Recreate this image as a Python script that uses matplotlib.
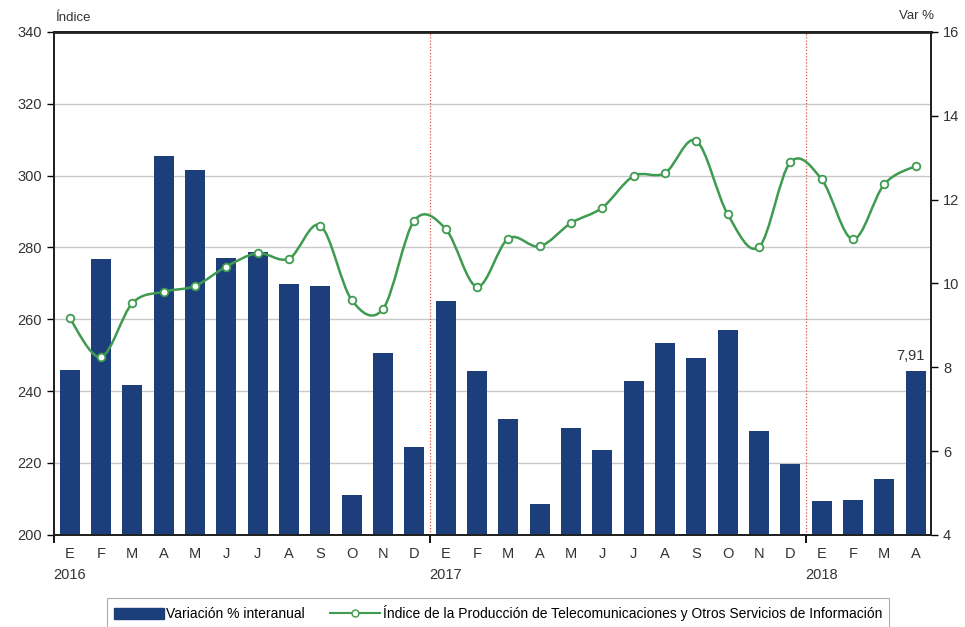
import matplotlib.pyplot as plt
import numpy as np
from matplotlib.path import Path
from matplotlib.patches import PathPatch, Patch
from matplotlib.lines import Line2D

plt.rcParams['font.family'] = ['Liberation Sans', 'DejaVu Sans']

months = ['E', 'F', 'M', 'A', 'M', 'J', 'J', 'A', 'S', 'O', 'N', 'D',
          'E', 'F', 'M', 'A', 'M', 'J', 'J', 'A', 'S', 'O', 'N', 'D',
          'E', 'F', 'M', 'A']
years = ['2016', '2017', '2018']
year_start = [0, 12, 24]

variacion = [7.94, 10.59, 7.57, 13.04, 12.70, 10.60, 10.75, 9.98, 9.94, 4.95, 8.35, 6.10,
             9.58, 7.90, 6.76, 4.74, 6.54, 6.02, 7.68, 8.57, 8.22, 8.89, 6.47, 5.70,
             4.80, 4.84, 5.34, 7.91]
indice = [260.3, 249.5, 264.5, 267.7, 269.3, 274.7, 278.4, 276.9, 286.1, 265.4, 262.9, 287.5,
          285.2, 269.1, 282.5, 280.3, 286.8, 291.1, 299.9, 300.7, 309.7, 289.3, 280.1, 303.7,
          299.0, 282.3, 297.6, 302.7]

bar_color = '#1C3F7C'
line_color = '#3E9B4F'

fig = plt.figure(figsize=(9.65, 6.27), dpi=100)
ax = fig.add_axes([0.056, 0.147, 0.909, 0.802])
ax2 = ax.twinx()
ax3 = ax.twinx()

x = np.arange(len(months))

# grid and left scale on the bottom layer
ax.set_ylim(200, 340)
ax.set_yticks(np.arange(200, 341, 20))
ax.yaxis.grid(True, color='#C8C8C8', linewidth=1)
ax.set_axisbelow(True)
ax.set_xlim(-0.5, len(months) - 0.5)

# bars on the right scale
ax2.bar(x, variacion, width=0.64, color=bar_color, zorder=2)
ax2.set_ylim(4, 16)
ax2.set_yticks(np.arange(4, 17, 2))
ax2.text(x[-1] - 0.15, variacion[-1] + 0.2, f'{variacion[-1]:.2f}'.replace('.', ','),
         ha='center', va='bottom', fontsize=10.5, color='#333333')

for b in year_start[1:]:
    ax2.axvline(b - 0.5, color='#D9534F', linestyle=(0, (1, 1.5)), linewidth=0.9, zorder=1)

# smoothed index line (bezier through the points)
pts = np.column_stack([x, indice])
verts = [pts[0]]
codes = [Path.MOVETO]
for i in range(len(pts) - 1):
    p0 = pts[i - 1] if i > 0 else pts[i]
    p1 = pts[i]
    p2 = pts[i + 1]
    p3 = pts[i + 2] if i + 2 < len(pts) else pts[i + 1]
    c1 = p1 + (p2 - p0) / 6.0
    c2 = p2 - (p3 - p1) / 6.0
    verts += [c1, c2, p2]
    codes += [Path.CURVE4] * 3
ax3.add_patch(PathPatch(Path(verts, codes), facecolor='none', edgecolor=line_color, linewidth=1.8, zorder=3))
ax3.plot(x, indice, linestyle='none', marker='o', markersize=5.5, markerfacecolor='white',
         markeredgecolor=line_color, markeredgewidth=1.3, zorder=4)
ax3.set_ylim(200, 340)
ax3.set_yticks([])
ax3.set_xlim(-0.5, len(months) - 0.5)

for a in (ax, ax2, ax3):
    for s in a.spines.values():
        s.set_color('#222222')
        s.set_linewidth(1.3)
ax.spines['top'].set_linewidth(2)

ax.tick_params(axis='y', labelsize=10.5, labelcolor='#333333', length=5, width=1, direction='out')
ax2.tick_params(axis='y', labelsize=10.5, labelcolor='#333333', length=5, width=1, direction='out')

ax.set_xticks([b - 0.5 for b in year_start])
ax.set_xticklabels([])
ax.tick_params(axis='x', length=6, width=1.3, direction='out')
ax.set_xticks(x, minor=True)
ax.set_xticklabels(months, minor=True)
ax.tick_params(axis='x', which='minor', length=0, labelsize=10.5, labelcolor='#333333', pad=9)
for b, yr in zip(year_start, years):
    ax.text(b, -0.066, yr, transform=ax.get_xaxis_transform(), ha='center', va='top',
            fontsize=10.5, color='#333333')

fig.text(0.057, 0.962, 'Índice', fontsize=9.5, color='#333333', ha='left', va='bottom')
fig.text(0.968, 0.965, 'Var %', fontsize=9.5, color='#333333', ha='right', va='bottom')

handles = [Patch(facecolor=bar_color, edgecolor=bar_color),
           Line2D([0], [0], color=line_color, linewidth=1.5, marker='o', markersize=5,
                  markerfacecolor='white', markeredgecolor=line_color)]
labels = ['Variación % interanual',
          'Índice de la Producción de Telecomunicaciones y Otros Servicios de Información']
leg = fig.legend(handles, labels, loc='upper center', bbox_to_anchor=(0.516, 0.046), ncol=2,
                 fontsize=10, frameon=True, fancybox=False, edgecolor='#999999',
                 handlelength=3.6, handleheight=0.9, columnspacing=1.8, handletextpad=0.2,
                 borderpad=0.5, borderaxespad=0)
leg.get_frame().set_linewidth(0.8)

fig.savefig('out.png', dpi=100)
